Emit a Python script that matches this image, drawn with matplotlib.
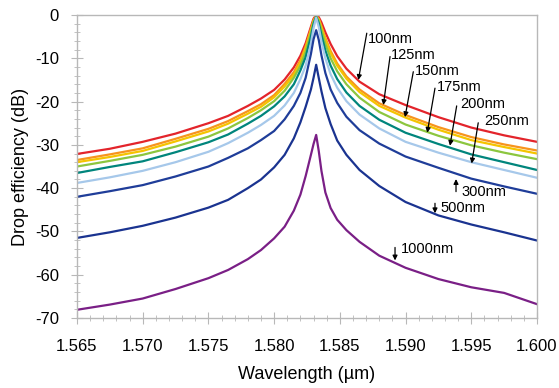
import numpy as np
import matplotlib.pyplot as plt
from matplotlib.ticker import MultipleLocator, FormatStrFormatter

plt.rcParams['font.family'] = ['Liberation Sans', 'DejaVu Sans']
plt.rcParams['axes.unicode_minus'] = False

# wavelength samples (um)
wl = [1.565, 1.5675, 1.570, 1.5725, 1.575, 1.5765, 1.578, 1.579, 1.580,
      1.5808, 1.5815, 1.582, 1.5824, 1.5828, 1.5830, 1.5832,
      1.5834, 1.5836, 1.5839, 1.5843, 1.5848, 1.5855, 1.5865, 1.588,
      1.590, 1.5925, 1.595, 1.5975, 1.600]

# drop efficiency (dB) per gap
d100 = [-32.1, -30.9, -29.3, -27.4, -25.0, -23.3, -21.0, -19.3, -17.3,
        -14.9, -12.1, -9.4, -6.5, -2.7, -0.85, 0.0,
        -0.5, -1.7, -4.0, -6.7, -9.5, -12.4, -15.4, -18.3,
        -20.8, -23.6, -26.0, -27.8, -29.3]
d125 = [-33.5, -32.2, -30.8, -28.6, -26.3, -24.5, -22.2, -20.6, -18.5,
        -15.9, -13.2, -10.4, -7.2, -3.2, -1.2, -0.2,
        -0.9, -2.6, -5.3, -8.3, -11.2, -14.2, -17.2, -20.4,
        -23.1, -25.9, -28.2, -29.9, -31.3]
d150 = [-34.0, -32.8, -31.4, -29.2, -26.9, -25.1, -22.8, -21.2, -19.0,
        -16.5, -13.8, -11.0, -7.7, -3.6, -1.4, -0.3,
        -1.1, -2.9, -5.7, -8.8, -11.7, -14.7, -17.8, -21.0,
        -23.7, -26.5, -28.9, -30.5, -32.0]
d175 = [-35.0, -33.7, -32.3, -30.4, -28.1, -26.2, -23.8, -22.0, -19.9,
        -17.5, -14.5, -11.7, -8.5, -4.1, -1.6, -0.3,
        -1.4, -3.5, -6.7, -10.0, -13.0, -16.0, -19.1, -22.4,
        -25.3, -27.9, -30.1, -31.8, -33.3]
d200 = [-36.5, -35.1, -33.8, -31.7, -29.4, -27.6, -25.1, -23.3, -21.1,
        -18.8, -16.0, -12.8, -9.7, -5.0, -2.1, -0.4,
        -1.9, -4.6, -8.2, -11.7, -14.8, -17.9, -21.0, -24.2,
        -27.2, -29.8, -32.2, -34.0, -35.8]
d250 = [-38.8, -37.5, -36.0, -34.0, -31.6, -29.6, -27.2, -25.4, -23.3,
        -20.9, -18.0, -14.8, -11.7, -6.6, -3.0, -0.6,
        -2.8, -6.1, -10.0, -13.7, -16.8, -19.9, -23.0, -26.2,
        -29.3, -31.8, -34.0, -35.8, -37.6]
d300 = [-42.0, -40.7, -39.3, -37.3, -35.0, -33.0, -30.8, -28.9, -26.8,
        -24.1, -21.0, -18.0, -14.5, -9.0, -5.6, -3.5,
        -5.8, -9.3, -13.4, -17.2, -20.3, -23.5, -26.6, -29.7,
        -32.7, -35.3, -37.8, -39.6, -41.3]
d500 = [-51.5, -50.2, -48.7, -46.8, -44.5, -42.7, -40.0, -38.0, -35.2,
        -32.3, -28.5, -24.8, -21.2, -17.2, -14.5, -11.5,
        -14.6, -17.6, -21.5, -25.2, -29.0, -32.3, -35.8, -39.5,
        -43.2, -46.3, -48.4, -50.2, -52.1]
d1000 = [-68.1, -66.9, -65.5, -63.3, -60.8, -58.9, -56.4, -54.3, -51.6,
         -48.9, -45.2, -41.5, -37.2, -32.3, -29.8, -27.7,
         -31.5, -36.0, -41.0, -44.6, -47.3, -49.7, -52.4, -55.6,
         -58.4, -61.0, -62.9, -64.2, -66.8]

series = [d100, d125, d150, d175, d200, d250, d300, d500, d1000]
labels = ['100nm', '125nm', '150nm', '175nm', '200nm', '250nm', '300nm', '500nm', '1000nm']
colors = ['#e3242b', '#f7941d', '#f5c400', '#8cc63f', '#00857c',
          '#a6c8ea', '#1f3d99', '#1a3390', '#7a1f86']

# label anchor (text left, centre) and arrow tail / head, in data units
text_pos = [(1.58710, -5.5), (1.58887, -9.3), (1.59069, -13.0), (1.59242, -16.7),
            (1.59419, -20.6), (1.59596, -24.4), (1.59427, -41.0), (1.59267, -44.5),
            (1.58965, -54.0)]
arrow_tail = [(1.58705, -4.2), (1.58882, -9.6), (1.59059, -13.1), (1.59224, -16.9),
              (1.59389, -21.0), (1.59553, -24.9), (1.59384, -40.8), (1.59224, -43.5),
              (1.58920, -53.7)]
arrow_head = [(1.58641, -15.0), (1.58831, -20.8), (1.58996, -23.6), (1.59165, -27.2),
              (1.59338, -30.2), (1.59503, -34.3), (1.59384, -37.9), (1.59224, -45.8),
              (1.58920, -56.7)]

fig = plt.figure(figsize=(5.59, 3.88), dpi=100)
ax = fig.add_axes([0.1377, 0.1804, 0.8229, 0.7809])

for y, c in zip(series, colors):
    ax.plot(wl, y, color=c, linewidth=1.6)

for lab, tp, t, h in zip(labels, text_pos, arrow_tail, arrow_head):
    ax.annotate('', xy=h, xytext=t,
                arrowprops=dict(arrowstyle='-|>', color='black', lw=0.9,
                                mutation_scale=7, shrinkA=0, shrinkB=0))
    ax.text(tp[0], tp[1], lab, fontsize=10.5, ha='left', va='center')

ax.set_xlim(1.565, 1.600)
ax.set_ylim(-70, 0)
ax.xaxis.set_major_locator(MultipleLocator(0.005))
ax.xaxis.set_minor_locator(MultipleLocator(0.001))
ax.xaxis.set_major_formatter(FormatStrFormatter('%.3f'))
ax.yaxis.set_major_locator(MultipleLocator(10))
ax.yaxis.set_minor_locator(MultipleLocator(2))

gray = '#b8b8b8'
for s in ax.spines.values():
    s.set_color(gray)
    s.set_linewidth(1.0)
ax.tick_params(which='major', direction='inout', length=8, color=gray,
               labelsize=12)
ax.tick_params(which='minor', direction='inout', length=5, color=gray)
ax.tick_params(axis='x', which='major', pad=11)
ax.tick_params(axis='y', which='major', pad=9)

ax.set_xlabel('Wavelength (µm)', fontsize=13, labelpad=9)
ax.set_ylabel('Drop efficiency (dB)', fontsize=13, labelpad=4)

plt.savefig('out.png', dpi=100)
